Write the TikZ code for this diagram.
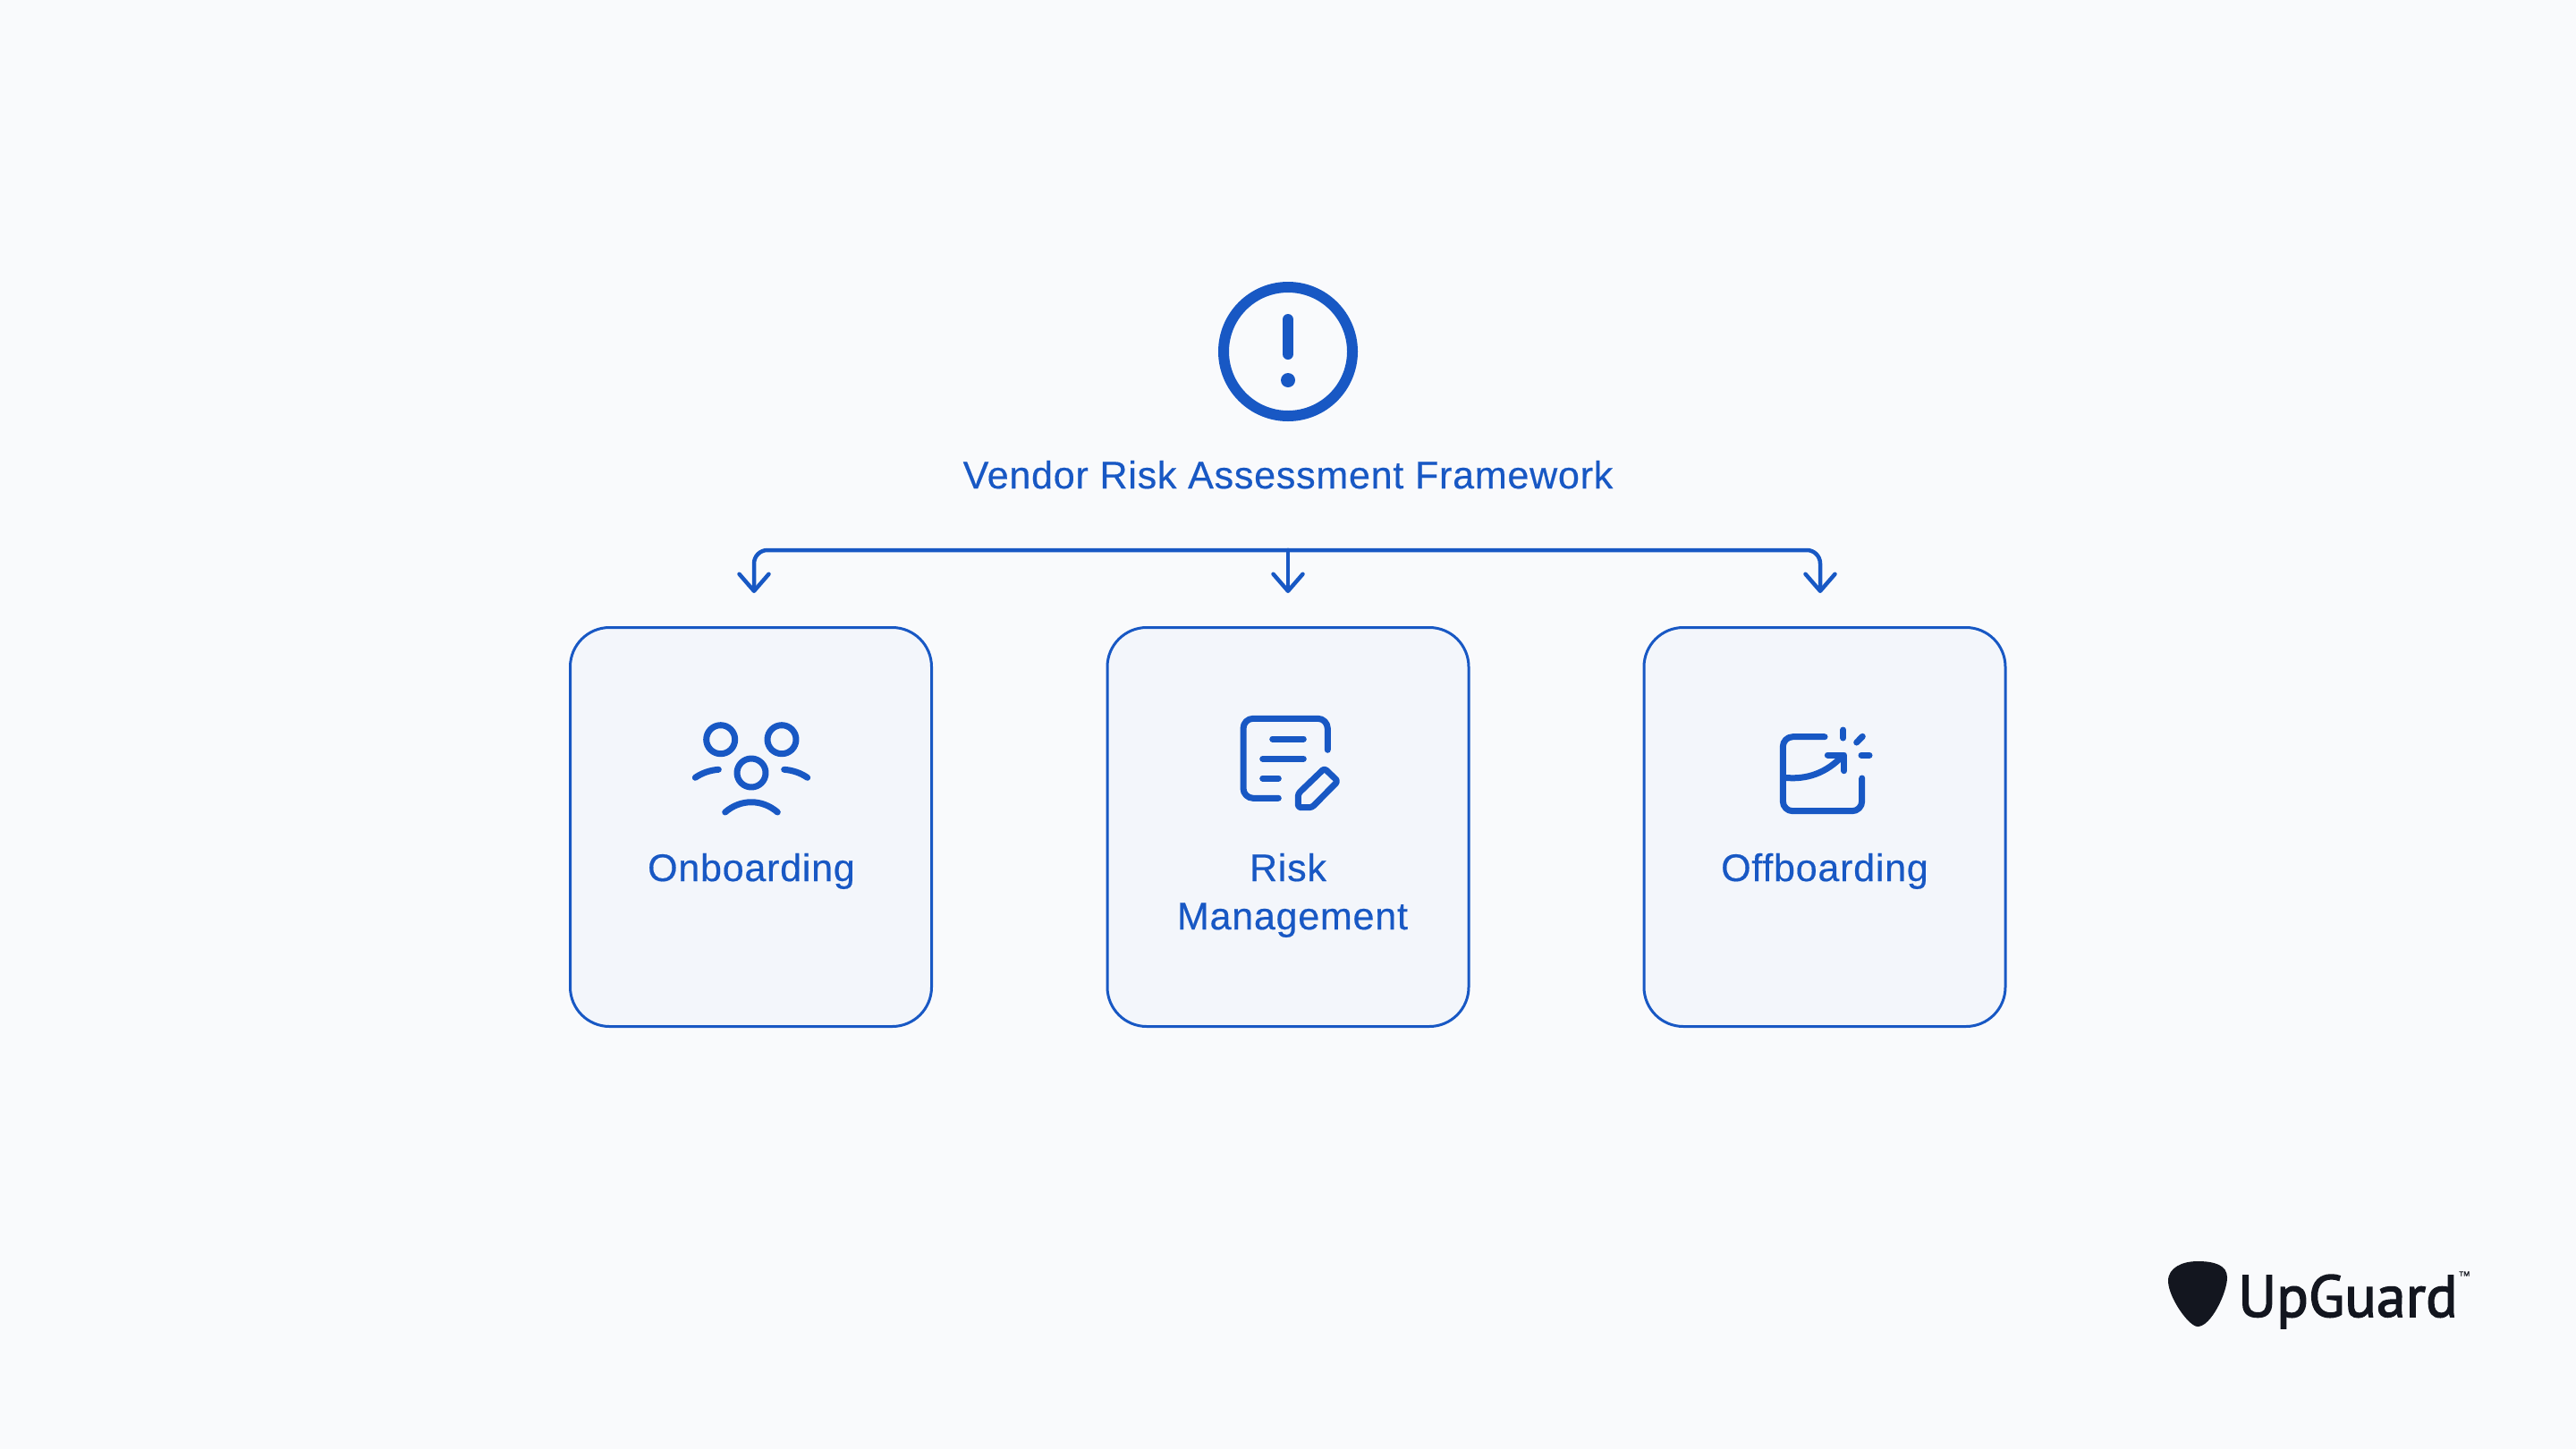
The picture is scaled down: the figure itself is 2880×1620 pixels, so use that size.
\documentclass[tikz,border=0pt]{standalone}
\usepackage{fontspec}
\setmainfont{Liberation Sans}[LetterSpace=1.8,FakeBold=0.4]
\newfontfamily\logofont{PT Sans}[FakeBold=2.2]
\usetikzlibrary{arrows.meta}
\definecolor{bgc}{HTML}{F9FAFC}
\definecolor{boxc}{HTML}{F3F6FB}
\definecolor{bluec}{HTML}{1858C4}
\definecolor{inkc}{HTML}{13161F}
\tikzset{
  cardbox/.style={draw=bluec,fill=boxc,line width=3pt,rounded corners=44pt,minimum width=404pt,minimum height=446pt,inner sep=0pt},
  lab/.style={text=bluec,anchor=base,inner sep=0pt,font=\fontsize{43}{43}\selectfont},
  icon/.style={draw=bluec,line width=7pt,line cap=round,line join=round,fill=none},
  conn/.style={draw=bluec,line width=4.5pt,line cap=round,rounded corners=15pt},
  tipped/.style={-{Straight Barb[length=19pt,width=33pt,line cap=round,line join=round]}},
}
\begin{document}
\begin{tikzpicture}[x=1pt,y=-1pt]
\useasboundingbox (0,0) rectangle (2880,1620);
\fill[bgc] (0,0) rectangle (2880,1620);
% header icon
\draw[bluec,line width=12pt] (1440,393) circle[radius=72pt];
\draw[bluec,line width=12pt,line cap=round] (1440,357) -- (1440,396);
\fill[bluec] (1440,425) circle[radius=8pt];
\node[lab] (title) at (1440,546) {Vendor Risk Assessment Framework};
% cards
\node[cardbox] (cardA) at (839.5,924.5) {};
\node[cardbox] (cardB) at (1440,924.5) {};
\node[cardbox] (cardC) at (2040,924.5) {};
% connectors
\coordinate (busM) at (1440,615);
\coordinate (busL) at (843,615);
\coordinate (busR) at (2035,615);
\coordinate (tipL) at (843,663);
\coordinate (tipM) at (1440,663);
\coordinate (tipR) at (2035,663);
\draw[conn,tipped] (busM) -- (busL) -- (tipL);
\draw[conn,tipped] (busM) -- (busR) -- (tipR);
\draw[conn,tipped] (busM) -- (tipM);
% people icon
\draw[icon] (805.7,826.7) circle[radius=16pt];
\draw[icon] (874,826.7) circle[radius=16pt];
\draw[icon] (840,864) circle[radius=16pt];
\draw[icon] (777.3,869.3) .. controls (785,864) and (794,861) .. (803.3,860.3);
\draw[icon] (876.7,860.3) .. controls (886,861) and (895,864) .. (902.7,869.3);
\draw[icon] (810.7,908) .. controls (828,893) and (852,893) .. (869.3,908);
% document icon
\draw[icon,rounded corners=11pt] (1484.3,838.3) -- (1484.3,803.3) -- (1390,803.3) -- (1390,892.3) -- (1429.3,892.3);
\draw[icon] (1422.7,826) -- (1457.3,826);
\draw[icon] (1411.7,848.3) -- (1457.3,848.3);
\draw[icon] (1411.7,870) -- (1429.3,870);
\draw[icon,rounded corners=3pt] (1480.7,859) -- (1495.7,873.3) -- (1466.7,902.7) -- (1451.3,902.7) -- (1451.3,887.3) -- cycle;
% exit icon
\draw[icon,rounded corners=11pt] (2040,823.7) -- (1993.3,823.7) -- (1993.3,906.7) -- (2081.7,906.7) -- (2081.7,870);
\draw[icon] (1995,869.3) .. controls (2020,872) and (2042,864) .. (2060,845);
\draw[icon] (2043.3,844) -- (2061.7,844) -- (2061.7,861.7);
\draw[icon] (2060.7,816) -- (2060.7,825);
\draw[icon] (2075.7,830) -- (2082.3,823.3);
\draw[icon] (2081,844.3) -- (2090,844.3);
% labels
\node[lab] (labA) at (840,985) {Onboarding};
\node[lab] (labB1) at (1440,985) {Risk};
\node[lab] (labB2) at (1445,1039) {Management};
\node[lab] (labC) at (2040,985) {Offboarding};
% logo
\fill[inkc] (2457,1410) .. controls (2475,1410) and (2490,1414) .. (2490,1428) .. controls (2490,1445) and (2472,1483) .. (2457,1483) .. controls (2447,1483) and (2424,1450) .. (2424,1432) .. controls (2424,1417) and (2440,1410) .. (2457,1410) -- cycle;
\node[anchor=base west,inner sep=0pt,text=inkc,font=\logofont\fontsize{66}{66}\selectfont] (logo) at (2502,1472) {UpGuard};
\node[anchor=base west,inner sep=0pt,text=inkc,font=\fontsize{14}{14}\selectfont] (tm) at (2748,1431) {™};
\end{tikzpicture}
\end{document}
